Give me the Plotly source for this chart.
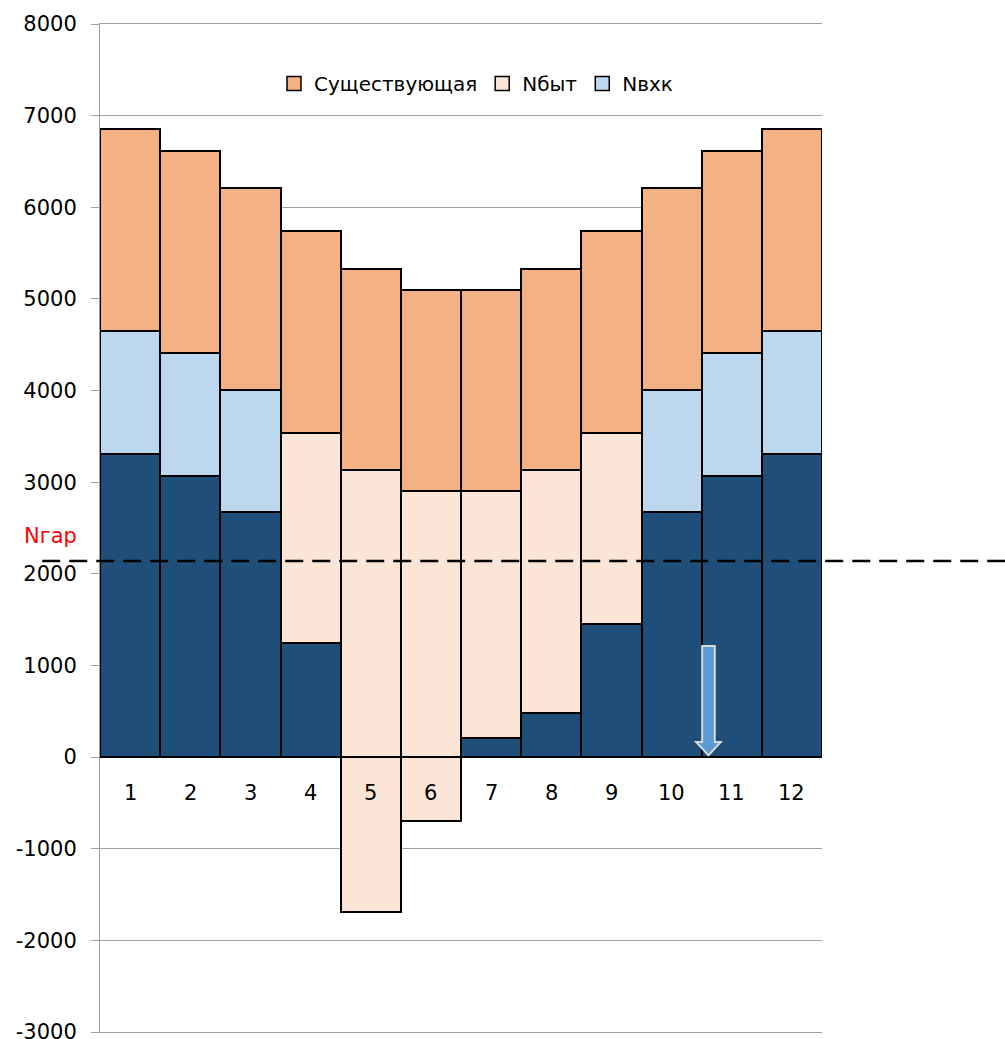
import plotly.graph_objects as go

# Monthly balance, stacked: base load, household load, utility load, existing capacity
months = [1, 2, 3, 4, 5, 6, 7, 8, 9, 10, 11, 12]
base_load = [3310, 3070, 2670, 1250, -1690, -700, 210, 480, 1450, 2670, 3070, 3310]
n_byt = [0, 0, 0, 2290, 3130, 2900, 2690, 2650, 2090, 0, 0, 0]
n_vhk = [1340, 1340, 1340, 0, 0, 0, 0, 0, 0, 1340, 1340, 1340]
existing = [2200, 2200, 2200, 2200, 2200, 2200, 2200, 2200, 2200, 2200, 2200, 2200]
n_gar = 2140
y_ticks = [-3000, -2000, -1000, 0, 1000, 2000, 3000, 4000, 5000, 6000, 7000, 8000]

NAVY = "#1F4E79"
PINK = "#FBE5D6"
BLUE = "#BDD7EE"
ORANGE = "#F4B183"
GRID = "#A0A0A0"
FONT = "DejaVu Sans"
FS = 21

y_min, y_max = y_ticks[0], y_ticks[-1]
edge = dict(color="black", width=2)

fig = go.Figure()
fig.add_trace(go.Bar(
    x=months, y=base_load, showlegend=False,
    marker=dict(color=[NAVY if v >= 0 else PINK for v in base_load], line=edge),
))
fig.add_trace(go.Bar(x=months, y=n_byt, showlegend=False,
                     marker=dict(color=PINK, line=edge)))
fig.add_trace(go.Bar(x=months, y=n_vhk, showlegend=False,
                     marker=dict(color=BLUE, line=edge)))
fig.add_trace(go.Bar(x=months, y=existing, showlegend=False,
                     marker=dict(color=ORANGE, line=edge)))

# Legend entries with square swatches
for name, color in [("Существующая", ORANGE), ("Nбыт", PINK), ("Nвхк", BLUE)]:
    fig.add_trace(go.Scatter(
        x=[None], y=[None], mode="markers", name=name,
        marker=dict(symbol="square", size=14, color=color,
                    line=dict(color="black", width=1.5)),
    ))

# Category labels sit on the zero line
for m in months:
    fig.add_annotation(x=m, y=0, text=str(m), showarrow=False, yshift=-36,
                       font=dict(family=FONT, size=FS, color="black"))

# Guaranteed-capacity level
gar_paper = (n_gar - y_min) / (y_max - y_min)
fig.add_shape(type="line", xref="paper", yref="paper",
              x0=-0.08, x1=1.26, y0=gar_paper, y1=gar_paper,
              line=dict(color="black", width=2.5, dash="18px,9px"))
fig.add_annotation(xref="paper", yref="paper", x=-0.068, y=gar_paper,
                   xanchor="center", yshift=25, text="Nгар", showarrow=False,
                   font=dict(family=FONT, size=FS, color="#FF0000"))

# Downward block arrow inside month 11
ax, top, neck, tip = 10.613, 1211, 164, 20
shaft, head = 0.105, 0.205
arrow_path = (f"M{ax - shaft},{top} L{ax + shaft},{top} L{ax + shaft},{neck} "
              f"L{ax + head},{neck} L{ax},{tip} L{ax - head},{neck} "
              f"L{ax - shaft},{neck} Z")
fig.add_shape(type="path", xref="x", yref="y", path=arrow_path,
              fillcolor="#5B9BD5", line=dict(color="#D9D9D9", width=2))

fig.update_layout(
    width=1005, height=1039,
    margin=dict(l=100, r=183, t=24, b=7),
    barmode="relative", bargap=0,
    plot_bgcolor="white", paper_bgcolor="white",
    font=dict(family=FONT, size=FS, color="black"),
    legend=dict(orientation="h", x=0.241, xanchor="left", y=0.941,
                yanchor="middle", font=dict(family=FONT, size=20),
                bgcolor="rgba(0,0,0,0)", itemwidth=30, tracegroupgap=0),
    xaxis=dict(range=[0.5, 12.5], showticklabels=False, showgrid=False,
               zeroline=False, showline=True, mirror=True, automargin=False,
               linecolor=GRID, linewidth=1, ticks=""),
    yaxis=dict(range=[y_min, y_max], tickmode="array", tickvals=y_ticks,
               ticktext=[str(v) for v in y_ticks], automargin=False,
               showgrid=True, gridcolor=GRID, gridwidth=1,
               zeroline=False, showline=True, linecolor=GRID, linewidth=1,
               ticks="outside", ticklen=8, tickcolor=GRID,
               ticklabelstandoff=10, ticklabeloverflow="allow",
               tickfont=dict(family=FONT, size=FS, color="black")),
)

fig.write_html("out.html")
